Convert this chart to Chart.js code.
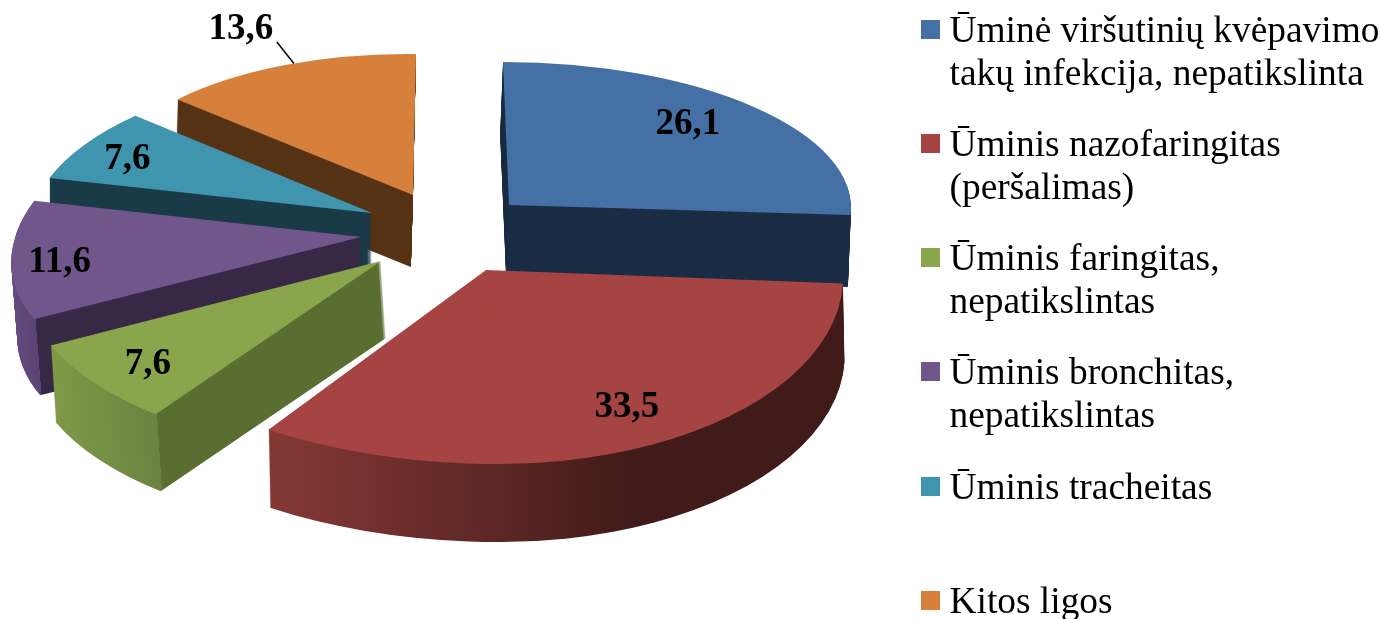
<!DOCTYPE html>
<html>
<head>
<meta charset="utf-8">
<title>Ūminės ligos</title>
<script src="https://cdn.jsdelivr.net/npm/chart.js@4"></script>
<style>
  body { margin: 0; background: #fff; }
  canvas { display: block; }
</style>
</head>
<body>
<canvas id="mycanvas" width="1381" height="619"></canvas>
<script>
// data
var categories = [
  ['Ūminė viršutinių kvėpavimo', 'takų infekcija, nepatikslinta'],
  ['Ūminis nazofaringitas', '(peršalimas)'],
  ['Ūminis faringitas,', 'nepatikslintas'],
  ['Ūminis bronchitas,', 'nepatikslintas'],
  ['Ūminis tracheitas'],
  ['Kitos ligos']
];
var values = [26.1, 33.5, 7.6, 11.6, 7.6, 13.6];

// colours
var topColors = ['#4570a6', '#a54442', '#8aa64c', '#70568b', '#3f95ae', '#d7803c'];
var sideColors = ['#1b2d44', '#3e1a18', '#5b6e32', '#372845', '#1a3b47', '#573316'];
var rimColors = [null, ['#843836', '#411b19', 0.6], ['#7f9a46', '#6a8340', 1], ['#63497e', '#5a4474', 1], null, null];

// fake 3d look: where each exploded slice sits and how it is squashed
var sliceX = [509, 486, 381, 361, 372, 413];
var sliceY = [205, 270, 261, 237, 213, 195];
var sliceRx = [342, 357, 361, 347, 339, 315];
var sliceRxLeft = [342, 401, 361, 347, 339, 315]; // perspective stretches the front left
var sliceRy = [143, 194, 190, 168, 148, 141];
var sliceSkew = [6, 12, -25, -44, -29, -3];
var sliceTilt = [0, 0, 5.7, -3.7, 0, 4];
var sliceDepth = [72, 78, 77, 76, 70, 72];
var sideLean = [-0.04, 0.02, 0.065, 0.08, 0, -0.03];
var drawOrder = [0, 5, 4, 3, 2, 1];
var labelDist = [0.8, 0.82, 0.84, 0.87, 0.85, 1.3];
var labelDx = [-18, 5, 7, 3, 0, -6];
var labelDy = [-3, -6, 1, 4, 4, 3];

// legend layout
var legendX = 921, legendTextX = 949.5, swatch = 19, lineGap = 43;
var legendY = [42, 156, 270, 384, 499, 613];

function sideFill(ctx, el, i) {
  var rim = rimColors[i];
  if (!rim) return sideColors[i];
  var left = el.x + el.outerRadius * Math.cos(el.endAngle);
  var right = el.x + el.outerRadius * Math.cos(el.startAngle);
  var g = ctx.createLinearGradient(left, 0, right + 1, 0);
  g.addColorStop(0, rim[0]);
  g.addColorStop(rim[2] * 0.999, rim[1]);
  g.addColorStop(1, rim[2] < 1 ? rim[1] : sideColors[i]);
  return g;
}

function drawSide(ctx, el, i, d, rx, clipFrom, clipWidth) {
  var R = el.outerRadius;
  ctx.save();
  ctx.translate(sliceX[i] + d * sideLean[i], sliceY[i] + d);
  ctx.transform(1, sliceTilt[i] / rx, sliceSkew[i] / sliceRy[i], 1, 0, 0);
  ctx.scale(rx / R, sliceRy[i] / R);
  ctx.translate(-el.x, -el.y);
  ctx.beginPath();
  ctx.rect(el.x + clipFrom, el.y - R, clipWidth, 2 * R);
  ctx.clip();
  el.draw(ctx);
  ctx.restore();
}

function drawSlice(ctx, el, i, d) {
  var R = el.outerRadius;
  if (sliceRxLeft[i] !== sliceRx[i]) {
    drawSide(ctx, el, i, d, sliceRxLeft[i], -R, R + 1);
    drawSide(ctx, el, i, d, sliceRx[i], 0, R);
  } else {
    drawSide(ctx, el, i, d, sliceRx[i], -R, 2 * R);
  }
}

// point on a slice at the given angle and fraction of its radius
function project(i, angle, dist) {
  var u = Math.cos(angle) * dist, v = Math.sin(angle) * dist;
  var rx = u < 0 ? sliceRxLeft[i] : sliceRx[i];
  return {
    x: sliceX[i] + rx * u + sliceSkew[i] * v,
    y: sliceY[i] + sliceRy[i] * v + sliceTilt[i] * u
  };
}

var pie3d = {
  id: 'pie3d',
  beforeDatasetsDraw: function(chart) {
    var ctx = chart.ctx;
    var arcs = chart.getDatasetMeta(0).data;
    drawOrder.forEach(function(i) {
      var el = arcs[i];
      var base = el.options;
      // side walls: the same arc repeated downwards
      el.options = Object.assign({}, base, { backgroundColor: sideFill(ctx, el, i) });
      for (var d = sliceDepth[i]; d > 0; d--) {
        drawSlice(ctx, el, i, d);
      }
      el.options = base;
      drawSlice(ctx, el, i, 0);
    });
    return false;
  },
  afterDraw: function(chart) {
    var ctx = chart.ctx;
    var arcs = chart.getDatasetMeta(0).data;
    ctx.save();

    // value labels
    ctx.fillStyle = '#000';
    ctx.font = 'bold 37px "Liberation Serif"';
    ctx.textAlign = 'center';
    ctx.textBaseline = 'middle';
    arcs.forEach(function(el, i) {
      var mid = (el.startAngle + el.endAngle) / 2;
      var p = project(i, mid, labelDist[i]);
      var lx = p.x + labelDx[i], ly = p.y + labelDy[i];
      ctx.fillText(values[i].toFixed(1).replace('.', ','), lx, ly);
      if (labelDist[i] > 1) {
        // leader line for the label sitting outside its slice
        var end = project(i, mid + 0.03, 1);
        ctx.strokeStyle = '#000';
        ctx.lineWidth = 1.5;
        ctx.beginPath();
        ctx.moveTo(lx + 36, ly + 13);
        ctx.lineTo(end.x, end.y);
        ctx.stroke();
      }
    });

    // legend
    ctx.font = '37.4px "Liberation Serif"';
    ctx.textAlign = 'left';
    ctx.textBaseline = 'alphabetic';
    categories.forEach(function(lines, i) {
      ctx.fillStyle = topColors[i];
      ctx.fillRect(legendX, legendY[i] - 22, swatch, swatch);
      ctx.fillStyle = '#000';
      lines.forEach(function(line, n) {
        ctx.fillText(line, legendTextX, legendY[i] + n * lineGap);
      });
    });
    ctx.restore();
  }
};

var ctx = document.getElementById('mycanvas');
var pieChart = new Chart(ctx, {
  type: 'pie',
  data: {
    labels: categories.map(function(c) { return c.join(' '); }),
    datasets: [{
      data: values,
      backgroundColor: topColors,
      borderWidth: 0
    }]
  },
  options: {
    responsive: false,
    animation: false,
    plugins: {
      legend: { display: false },
      tooltip: { enabled: false }
    }
  },
  plugins: [pie3d]
});
</script>
</body>
</html>
